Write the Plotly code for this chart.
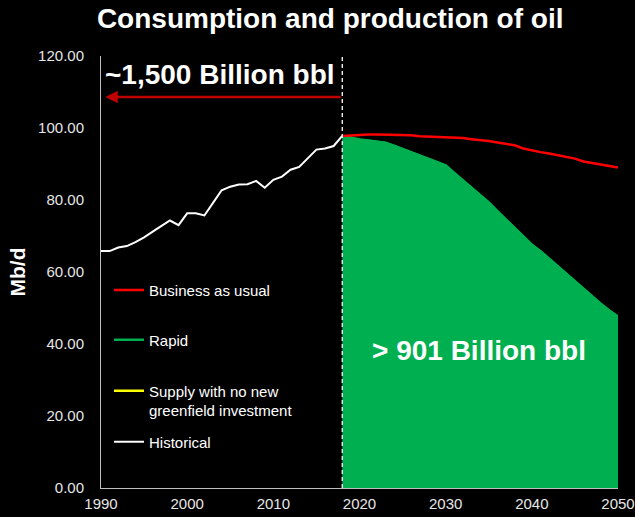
import plotly.graph_objects as go

# Historical world oil consumption, million barrels per day
hist_years = list(range(1990, 2019))
hist_values = [65.8, 65.8, 66.8, 67.2, 68.3, 69.6, 71.2, 72.8, 74.3, 73.0,
               76.3, 76.3, 75.7, 79.2, 82.7, 83.7, 84.3, 84.4, 85.3, 83.4,
               85.6, 86.5, 88.4, 89.2, 91.5, 94.0, 94.3, 95.0, 97.8]

# Scenario projections 2018-2050
proj_years = list(range(2018, 2051))
bau_values = [97.8, 98.0, 98.2, 98.2, 98.2, 98.2, 98.2, 98.1, 98.0, 97.7,
              97.6, 97.6, 97.6, 97.4, 97.2, 96.9, 96.7, 96.4, 96.0, 95.6,
              95.2, 94.3, 93.7, 93.3, 92.9, 92.5, 92.0, 91.5, 90.7, 90.3,
              89.9, 89.4, 89.0]
rapid_values = [97.8, 97.2, 96.8, 96.5, 96.2, 95.9, 95.1, 94.2, 93.2, 92.3,
                91.5, 90.7, 89.6, 87.5, 85.5, 83.3, 81.5, 79.3, 76.9, 74.6,
                72.2, 69.8, 67.6, 65.8, 63.7, 61.6, 59.5, 57.4, 55.3, 53.2,
                51.2, 49.3, 47.6]
supply_years = [2018]
supply_values = [97.8]

split_year = 2018
y_ticks = [0, 20, 40, 60, 80, 100, 120]
x_ticks = [1990, 2000, 2010, 2020, 2030, 2040, 2050]

FONT = "Arial, Liberation Sans, sans-serif"
GREEN = "#00B050"
RED = "#FF0000"
TICK_COLOR = "#E6E6E6"

fig = go.Figure()

# Rapid scenario drawn as a filled area; its legend entry is a plain line
fig.add_trace(go.Scatter(
    x=proj_years, y=rapid_values, mode="lines",
    line=dict(color=GREEN, width=2), fill="tozeroy", fillcolor=GREEN,
    showlegend=False, hoverinfo="skip",
))
fig.add_trace(go.Scatter(
    x=proj_years, y=rapid_values, name="Rapid", mode="lines",
    line=dict(color=GREEN, width=2.5), legend="legend2",
))
fig.add_trace(go.Scatter(
    x=proj_years, y=bau_values, name="Business as usual", mode="lines",
    line=dict(color=RED, width=2.5), legend="legend",
))
fig.add_trace(go.Scatter(
    x=supply_years, y=supply_values,
    name="Supply with no new<br>greenfield investment", mode="lines",
    line=dict(color="#FFFF00", width=2.5), legend="legend3",
))
fig.add_trace(go.Scatter(
    x=hist_years, y=hist_values, name="Historical", mode="lines",
    line=dict(color="white", width=2), legend="legend4",
))

# Divider between history and projections
fig.add_shape(type="line", x0=split_year, x1=split_year, y0=0, y1=123,
              xref="x", yref="y", line=dict(color="white", width=1.3, dash="4px,3px"))

# Cumulative consumption arrow and labels
fig.add_annotation(x=1990.5, y=108.6, ax=split_year, ay=108.6,
                   xref="x", yref="y", axref="x", ayref="y",
                   text="", showarrow=True, arrowhead=2, arrowsize=1,
                   arrowwidth=2.5, arrowcolor="#C00000")
fig.add_annotation(x=2003.8, y=115.0, xref="x", yref="y",
                   text="<b>~1,500 Billion bbl</b>", showarrow=False,
                   font=dict(family=FONT, size=28, color="white"))
fig.add_annotation(x=2033.9, y=38.3, xref="x", yref="y",
                   text="<b>> 901 Billion bbl</b>", showarrow=False,
                   font=dict(family=FONT, size=28, color="white"))

leg_common = dict(bgcolor="rgba(0,0,0,0)", font=dict(family=FONT, size=15, color="white"),
                  xanchor="left", x=0.0155, itemwidth=30)

fig.update_layout(
    width=635, height=517,
    showlegend=True,
    paper_bgcolor="black", plot_bgcolor="black",
    margin=dict(l=101, r=17, t=56, b=29),
    title=dict(text="<b>Consumption and production of oil</b>",
               x=0.52, xanchor="center", y=0.965, yanchor="middle",
               font=dict(family=FONT, size=28, color="white")),
    xaxis=dict(range=[1990, 2050], tickvals=x_ticks, showgrid=False,
               showline=True, linecolor="#BFBFBF", linewidth=1, zeroline=False,
               ticks="", ticklabelstandoff=2, automargin=False,
               tickfont=dict(family=FONT, size=15, color=TICK_COLOR)),
    yaxis=dict(range=[0, 120], tickvals=y_ticks, tickformat=".2f", showgrid=False,
               showline=True, linecolor="#BFBFBF", linewidth=1, zeroline=False,
               ticks="", ticklabelstandoff=13, automargin=False,
               tickfont=dict(family=FONT, size=15, color=TICK_COLOR),
               title=dict(text="<b>Mb/d</b>", standoff=6,
                          font=dict(family=FONT, size=21, color="white"))),
    legend=dict(**leg_common, y=0.458, yanchor="middle"),
    legend2=dict(**leg_common, y=0.3426, yanchor="middle"),
    legend3=dict(**leg_common, y=0.2025, yanchor="middle", valign="top"),
    legend4=dict(**leg_common, y=0.1065, yanchor="middle"),
)

fig.write_html("out.html")
